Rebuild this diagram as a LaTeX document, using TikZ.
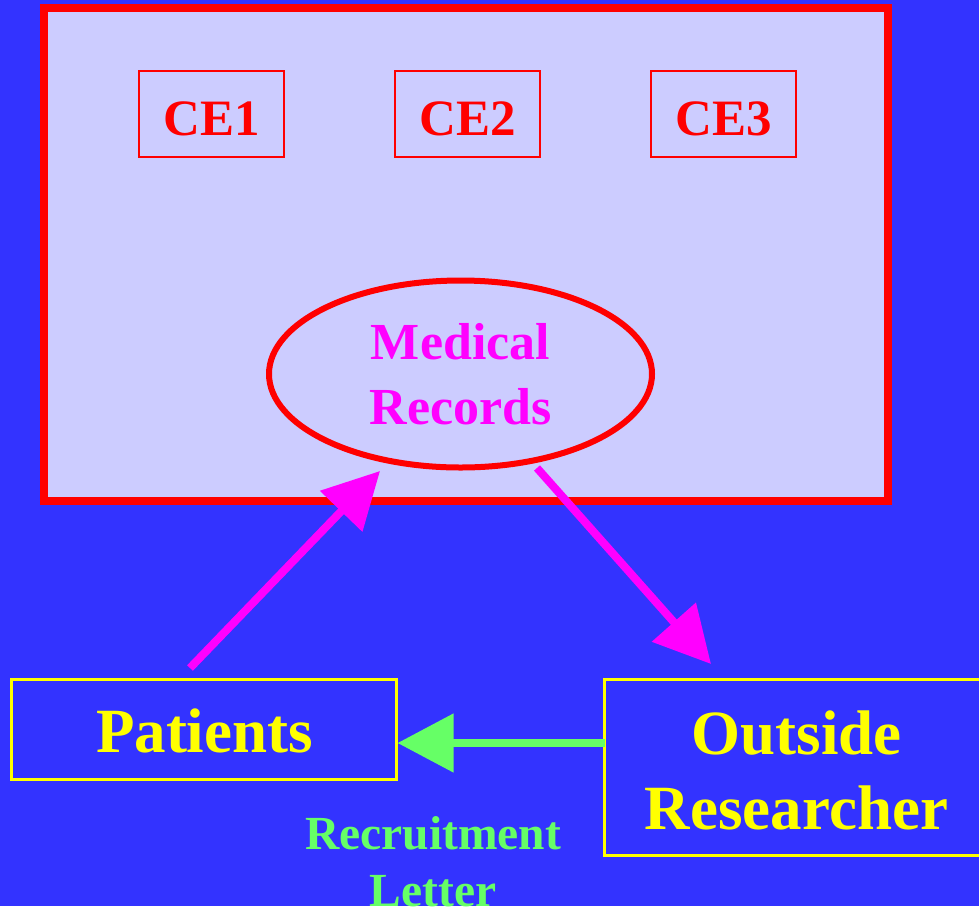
\documentclass[tikz,border=0pt]{standalone}
\usepackage{fontspec}
\setmainfont{Liberation Serif}
\usetikzlibrary{arrows.meta,shapes.geometric}
\definecolor{bgblue}{HTML}{3333FF}
\definecolor{paneblue}{HTML}{CCCCFF}
\definecolor{hired}{HTML}{FF0000}
\definecolor{himag}{HTML}{FF00FF}
\definecolor{hiyel}{HTML}{FFFF00}
\definecolor{higreen}{HTML}{66FF66}
\tikzset{
  cebox/.style={draw=hired, line width=1.5pt, minimum width=145pt, minimum height=86pt,
    inner sep=0pt, text height=43pt, text depth=0pt, text=hired,
    font=\fontsize{51}{51}\selectfont\bfseries},
  partybox/.style={draw=hiyel, line width=3pt, inner sep=0pt},
  bigtext/.style={text=hiyel, align=center, font=\fontsize{63}{75}\selectfont\bfseries},
  flow/.style={line width=8pt, -{Triangle[length=56pt,width=57pt]}},
}
\begin{document}
\begin{tikzpicture}[x=1pt,y=-1pt]
\useasboundingbox (0,0) rectangle (979,906);
\clip (0,0) rectangle (979,906);
\fill[bgblue] (0,0) rectangle (979,906);
% covered-entity enclosure
\draw[hired, line width=8pt, fill=paneblue] (44,8) rectangle (888,501);
\node[cebox] (ce1) at (211.5,114) {CE1};
\node[cebox] (ce2) at (467.5,114) {CE2};
\node[cebox] (ce3) at (723.5,114) {CE3};
\node[draw=hired, line width=6pt, ellipse, minimum width=383pt, minimum height=187pt,
  inner sep=0pt, text=himag, align=center, font=\fontsize{52}{65}\selectfont\bfseries]
  (rec) at (460.5,374) {Medical\\ Records};
% parties outside
\node[partybox, minimum width=385pt, minimum height=100pt] (pat) at (203.5,729) {};
\node[bigtext] at (204.5,731) {Patients};
\draw[hiyel, line width=3pt] (995,679.5) -- (604.5,679.5) -- (604.5,855.5) -- (995,855.5);
\coordinate (res) at (604.5,743);
\node[bigtext] (restext) at (796.5,770) {Outside\\ Researcher};
\node[text=higreen, align=center, font=\fontsize{47.5}{57}\selectfont\bfseries]
  (letter) at (433,862) {Recruitment\\ Letter};
% flows
\coordinate (p0) at (190,668);
\coordinate (r0) at (380,471);
\coordinate (m0) at (537,468);
\coordinate (o0) at (711,664);
\draw[himag, flow] (p0) -- (r0);
\draw[himag, flow] (m0) -- (o0);
\draw[higreen, flow] (res) -- (pat.east |- res);
\end{tikzpicture}
\end{document}
